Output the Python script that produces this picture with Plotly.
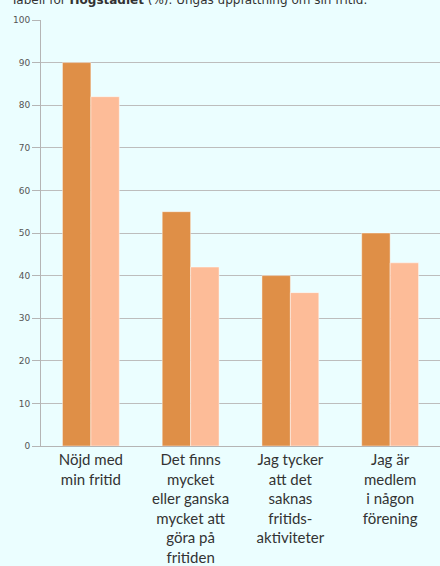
import plotly.graph_objects as go

categories = [
    "Nöjd med<br>min fritid",
    "Det finns<br>mycket<br>eller ganska<br>mycket att<br>göra på<br>fritiden",
    "Jag tycker<br>att det<br>saknas<br>fritids-<br>aktiviteter",
    "Jag är<br>medlem<br>i någon<br>förening",
]
series_a = [90, 55, 40, 50]
series_b = [82, 42, 36, 43]
y_ticks = [0, 10, 20, 30, 40, 50, 60, 70, 80, 90, 100]

bg = "#EBFEFF"

fig = go.Figure()
fig.add_trace(go.Bar(x=categories, y=series_a, marker=dict(color="#DF8F47", line=dict(color="rgba(255,255,255,0.45)", width=1)), showlegend=False))
fig.add_trace(go.Bar(x=categories, y=series_b, marker=dict(color="#FDBC98", line=dict(color="rgba(255,255,255,0.45)", width=1)), showlegend=False))

fig.update_layout(
    width=440, height=566,
    margin=dict(l=41, r=0, t=20, b=120, autoexpand=False),
    paper_bgcolor=bg, plot_bgcolor=bg,
    barmode="group", bargap=0.43, bargroupgap=0,
    xaxis=dict(
        showline=True, linecolor="#B5B5B5", linewidth=1,
        tickfont=dict(family="Lato", size=15, color="#333333"),
        ticks="", showgrid=False, automargin=False,
    ),
    yaxis=dict(
        range=[0, 100], tickvals=y_ticks,
        showgrid=True, gridcolor="#BDBDBD", gridwidth=1,
        showline=True, linecolor="#B5B5B5", linewidth=1,
        ticks="outside", ticklen=8, tickcolor="#B5B5B5",
        tickfont=dict(family="DejaVu Sans", size=9, color="#555555"),
        zeroline=False, automargin=False,
    ),
    annotations=[dict(
        text="Tabell för <b>Högstadiet</b> (%). Ungas uppfattning om sin fritid.",
        xref="paper", yref="paper", x=0, y=1, xanchor="left", yanchor="bottom",
        xshift=-33, yshift=11, showarrow=False,
        font=dict(family="DejaVu Sans", size=12, color="#333333"),
    )],
)

fig.write_html(
    "out.html",
    config={"displayModeBar": False},
    post_script="document.body.style.margin='0';document.body.style.overflow='hidden';",
)
